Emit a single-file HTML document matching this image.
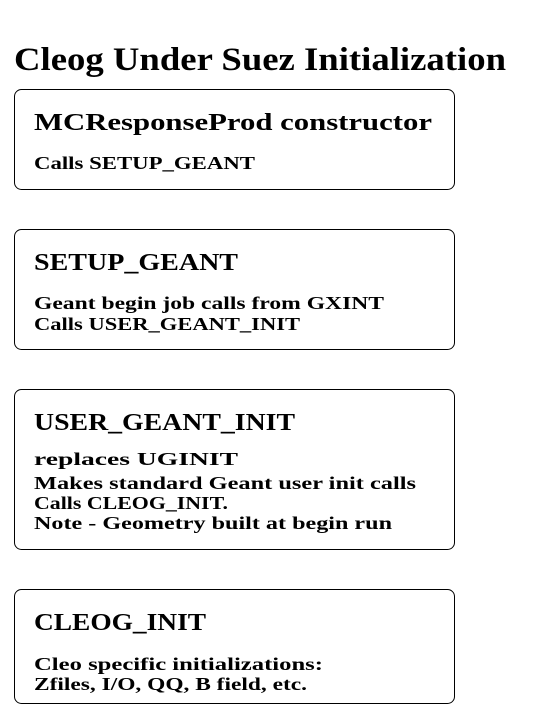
<!DOCTYPE html>
<html><head><meta charset="utf-8"><style>
html,body{margin:0;padding:0;background:#fff;width:550px;height:720px;overflow:hidden}
svg text{font-family:"Liberation Serif",serif;font-weight:bold;fill:#000}
</style></head><body>
<svg width="550" height="720" xmlns="http://www.w3.org/2000/svg">
<g fill="none" stroke="#000" stroke-width="1">
<rect x="14.5" y="89.5" width="440" height="100" rx="7"/>
<rect x="14.5" y="229.5" width="440" height="120" rx="7"/>
<rect x="14.5" y="389.5" width="440" height="160" rx="7"/>
<rect x="14.5" y="589.5" width="440" height="114" rx="7"/>
</g>
<text x="14" y="70" font-size="33" textLength="492" lengthAdjust="spacingAndGlyphs">Cleog Under Suez Initialization</text>
<g font-size="24">
<text x="34" y="130" textLength="398" lengthAdjust="spacingAndGlyphs" style="font-size:24px">MCResponseProd  constructor</text>
<text x="34" y="270" textLength="204" lengthAdjust="spacingAndGlyphs" style="font-size:24px">SETUP_GEANT</text>
<text x="34" y="430" textLength="261" lengthAdjust="spacingAndGlyphs" style="font-size:24px">USER_GEANT_INIT</text>
<text x="34" y="630" textLength="172" lengthAdjust="spacingAndGlyphs" style="font-size:24px">CLEOG_INIT</text>
</g>
<g style="font-size:18px">
<text x="34" y="169" textLength="221" lengthAdjust="spacingAndGlyphs" style="font-size:18px">Calls SETUP_GEANT</text>
<text x="34" y="309" textLength="350" lengthAdjust="spacingAndGlyphs" style="font-size:18px">Geant begin job calls from GXINT</text>
<text x="34" y="330" textLength="266" lengthAdjust="spacingAndGlyphs" style="font-size:18px">Calls USER_GEANT_INIT</text>
<text x="34" y="465" textLength="204" lengthAdjust="spacingAndGlyphs" style="font-size:18px">replaces UGINIT</text>
<text x="34" y="489" textLength="382" lengthAdjust="spacingAndGlyphs" style="font-size:18px">Makes standard Geant user init calls</text>
<text x="34" y="509" textLength="194" lengthAdjust="spacingAndGlyphs" style="font-size:18px">Calls CLEOG_INIT.</text>
<text x="34" y="529" textLength="358" lengthAdjust="spacingAndGlyphs" style="font-size:18px">Note - Geometry built at begin run</text>
<text x="34" y="670" textLength="289" lengthAdjust="spacingAndGlyphs" style="font-size:18px">Cleo specific initializations:</text>
<text x="34" y="690" textLength="273" lengthAdjust="spacingAndGlyphs" style="font-size:18px">Zfiles, I/O, QQ, B field, etc.</text>
</g>
</svg>
</body></html>
